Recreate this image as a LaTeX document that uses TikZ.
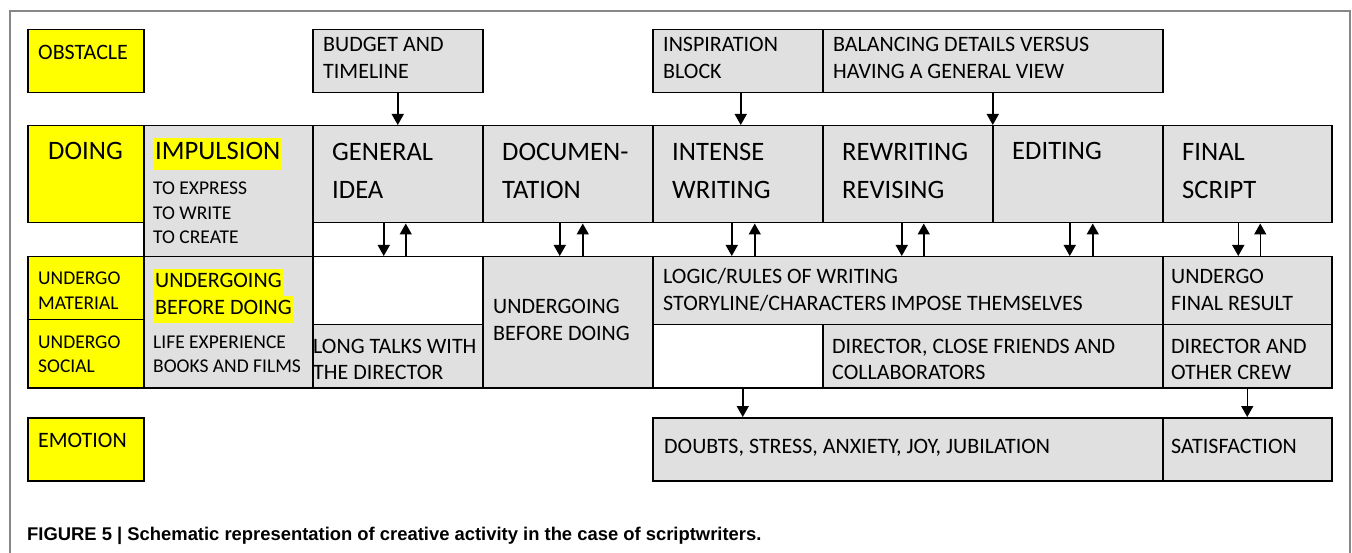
\documentclass[tikz,border=0pt]{standalone}
\usepackage{fontspec}
\setmainfont{Carlito}
\newfontfamily\leyendafont{Liberation Sans}
\usetikzlibrary{arrows.meta}

\definecolor{gris}{RGB}{224,224,224}
\definecolor{amarillo}{RGB}{255,255,0}
\definecolor{marco}{RGB}{135,135,135}

\newcommand{\resaltar}[1]{{\setlength{\fboxsep}{0pt}\colorbox{amarillo}{\strut\hspace{2pt}#1\hspace{2pt}}}}

\begin{document}
\begin{tikzpicture}[x=1pt, y=-1pt, >={Triangle[length=11pt,width=12pt]},
    caja/.style={draw, line width=1.5pt, fill=gris, anchor=north west, inner sep=0pt},
    amar/.style={caja, fill=amarillo},
    vacia/.style={caja, fill=white},
    tam/.style 2 args={minimum width=#1pt, minimum height=#2pt},
    txt/.style={anchor=base west, inner sep=0pt, align=left, font=\fontsize{22}{27}\selectfont},
    grande/.style={txt, font=\fontsize{26.6}{37.5}\selectfont},
    chico/.style={txt, font=\fontsize{19.5}{24.5}\selectfont},
    flecha/.style={->, line width=1.5pt}]
        % Marco
        \useasboundingbox (0,0) rectangle (1352,553);
        \draw[marco, line width=2pt] (10,553) -- (10,11) -- (1350,11) -- (1350,553);

        % Obstáculos (texto anclado en la última línea)
        \node[amar, tam={116}{63}] (obst) at (27,29) {};
        \node[caja, tam={170}{63}] (presup) at (312,29) {};
        \node[caja, tam={170}{63}] (insp) at (652,29) {};
        \node[caja, tam={340}{63}] (balance) at (822,29) {};
        \node[txt] (t-obst) at ([shift={(11,31)}]obst.north west) {OBSTACLE};
        \node[txt] (t-presup) at ([shift={(11,50)}]presup.north west) {BUDGET AND\\TIMELINE};
        \node[txt] (t-insp) at ([shift={(11,50)}]insp.north west) {INSPIRATION\\BLOCK};
        \node[txt] (t-balance) at ([shift={(11,50)}]balance.north west) {BALANCING DETAILS VERSUS\\HAVING A GENERAL VIEW};

        % Hacer
        \node[amar, tam={116}{97}] (hacer) at (27,125) {};
        \node[caja, tam={169}{131}] (impulso) at (143,125) {};
        \node[caja, tam={170}{97}] (idea) at (312,125) {};
        \node[caja, tam={170}{97}] (docu) at (482,125) {};
        \node[caja, tam={170}{97}] (intensa) at (652,125) {};
        \node[caja, tam={170}{97}] (reescr) at (822,125) {};
        \node[caja, tam={170}{97}] (edic) at (992,125) {};
        \node[caja, tam={169}{97}] (final) at (1162,125) {};
        \node[grande] (t-hacer) at ([shift={(21,35)}]hacer.north west) {DOING};
        \node[grande, font=\fontsize{26.6}{32}\selectfont] (t-impulso) at ([shift={(10,35)}]impulso.north west) {\resaltar{IMPULSION}};
        \node[chico] (t-impulso2) at ([shift={(10,119)}]impulso.north west) {TO EXPRESS\\TO WRITE\\TO CREATE};
        \node[grande] (t-idea) at ([shift={(20,73.5)}]idea.north west) {GENERAL\\IDEA};
        \node[grande] (t-docu) at ([shift={(20,73.5)}]docu.north west) {DOCUMEN-\\TATION};
        \node[grande] (t-intensa) at ([shift={(20,73.5)}]intensa.north west) {INTENSE\\WRITING};
        \node[grande] (t-reescr) at ([shift={(20,73.5)}]reescr.north west) {REWRITING\\REVISING};
        \node[grande] (t-edic) at ([shift={(20,35)}]edic.north west) {EDITING};
        \node[grande] (t-final) at ([shift={(20,73.5)}]final.north west) {FINAL\\SCRIPT};

        % Padecer
        \node[amar, tam={116}{63}] (material) at (27,256) {};
        \node[amar, tam={116}{68}] (social) at (27,319) {};
        \node[caja, tam={169}{131}] (padecer1) at (143,256) {};
        \node[vacia, tam={170}{68}] (blanco1) at (312,256) {};
        \node[caja, tam={170}{63}] (charlas) at (312,324) {};
        \node[caja, tam={170}{131}] (padecer2) at (482,256) {};
        \node[caja, tam={510}{68}] (logica) at (652,256) {};
        \node[vacia, tam={170}{63}] (blanco2) at (652,324) {};
        \node[caja, tam={340}{63}] (amigos) at (822,324) {};
        \node[caja, tam={169}{68}] (resfinal) at (1162,256) {};
        \node[caja, tam={169}{63}] (equipo) at (1162,324) {};
        \node[chico, font=\fontsize{19.5}{25}\selectfont] (t-material) at ([shift={(11,54)}]material.north west) {UNDERGO\\MATERIAL};
        \node[chico, font=\fontsize{19.5}{24}\selectfont] (t-social) at ([shift={(11,53)}]social.north west) {UNDERGO\\SOCIAL};
        \node[txt] (t-padecer1) at ([shift={(10,59)}]padecer1.north west) {\resaltar{UNDERGOING}\\\resaltar{BEFORE DOING}};
        \node[chico, font=\fontsize{19.5}{24}\selectfont] (t-padecer1b) at ([shift={(10,116)}]padecer1.north west) {LIFE EXPERIENCE\\BOOKS AND FILMS};
        \node[txt, font=\fontsize{22}{26}\selectfont] (t-charlas) at ([shift={(1,55)}]charlas.north west) {LONG TALKS WITH\\THE DIRECTOR};
        \node[txt] (t-padecer2) at ([shift={(11,85)}]padecer2.north west) {UNDERGOING\\BEFORE DOING};
        \node[txt] (t-logica) at ([shift={(11,55)}]logica.north west) {LOGIC/RULES OF WRITING\\STORYLINE/CHARACTERS IMPOSE THEMSELVES};
        \node[txt, font=\fontsize{22}{26}\selectfont] (t-amigos) at ([shift={(10,55)}]amigos.north west) {DIRECTOR, CLOSE FRIENDS AND\\COLLABORATORS};
        \node[txt] (t-resfinal) at ([shift={(9,55)}]resfinal.north west) {UNDERGO\\FINAL RESULT};
        \node[txt, font=\fontsize{22}{26}\selectfont] (t-equipo) at ([shift={(9,55)}]equipo.north west) {DIRECTOR AND\\OTHER CREW};

        % Emoción
        \node[amar, tam={116}{63}] (emocion) at (27,417) {};
        \node[caja, tam={510}{63}] (dudas) at (652,417) {};
        \node[caja, tam={169}{63}] (satisf) at (1162,417) {};
        \node[txt] (t-emocion) at ([shift={(11,30)}]emocion.north west) {EMOTION};
        \node[txt] (t-dudas) at ([shift={(12,36)}]dudas.north west) {DOUBTS, STRESS, ANXIETY, JOY, JUBILATION};
        \node[txt] (t-satisf) at ([shift={(9,36)}]satisf.north west) {SATISFACTION};

        % Flechas
        \draw[flecha] (presup.south) -- (presup.south |- idea.north);
        \draw[flecha] ([xshift=3pt]insp.south) -- ([xshift=3pt]insp.south |- intensa.north);
        \draw[flecha] (balance.south) -- (balance.south |- reescr.north);
        \foreach \a/\b/\d/\u in {idea/blanco1/-14/8, docu/padecer2/-8/15, intensa/logica/-6/17,
                reescr/logica/-6/16, edic/logica/-8/15, final/resfinal/-9/13}{
            \draw[flecha] ([xshift=\d pt]\a.south) -- ([xshift=\d pt]\a.south |- \b.north);
            \draw[flecha] ([xshift=\u pt]\a.south |- \b.north) -- ([xshift=\u pt]\a.south);
        }
        \draw[flecha] ([xshift=5pt]blanco2.south) -- ([xshift=5pt]blanco2.south |- dudas.north);
        \draw[flecha] (equipo.south) -- (equipo.south |- satisf.north);

        % Pie de figura
        \node[anchor=base west, inner sep=0pt, font=\leyendafont\bfseries\fontsize{18.4}{22}\selectfont] (pie) at (27,540)
            {FIGURE 5 | Schematic representation of creative activity in the case of scriptwriters.};
    \end{tikzpicture}
\end{document}
